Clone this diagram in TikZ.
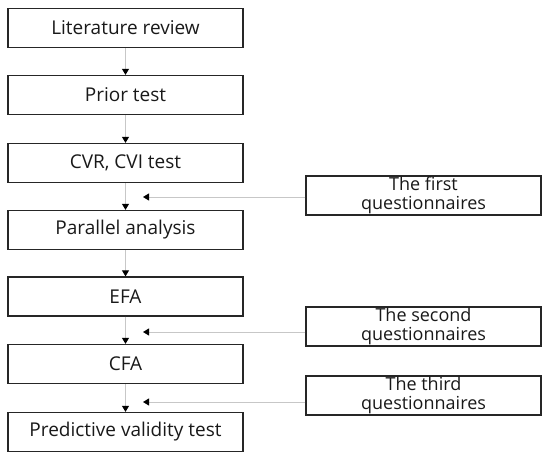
\documentclass[tikz,border=0pt]{standalone}
\usepackage{fontspec}
\setmainfont{Open Sans}
\usetikzlibrary{arrows.meta}
\tikzset{
	stepbox/.style={draw=black!85, line width=1.3pt, minimum width=235pt, minimum height=39pt, inner sep=0pt, font=\fontsize{19}{22}\selectfont, text=black!90},
	qbox/.style={stepbox, align=center, font=\fontsize{18}{19}\selectfont},
	flow/.style={draw=black!22, line width=1pt, -{Triangle[black, width=7pt, length=6pt]}}
}

\begin{document}
\begin{tikzpicture}[x=1pt, y=-1pt]
			%%%%% START %%%%%
			
			\useasboundingbox (0, 0) rectangle (549, 460);
			
			\node[stepbox] (lit) at (125.5, 28) {Literature review};
			\node[stepbox] (prior) at (125.5, 95) {Prior test};
			\node[stepbox] (cvr) at (125.5, 163) {CVR, CVI test};
			\node[stepbox] (par) at (125.5, 230) {Parallel analysis};
			\node[stepbox] (efa) at (125.5, 296.5) {EFA};
			\node[stepbox] (cfa) at (125.5, 364) {CFA};
			\node[stepbox] (pred) at (125.5, 432) {Predictive validity test};
			
			\node[qbox] (q1) at (423.5, 195.5) {The first\\questionnaires};
			\node[qbox] (q2) at (423.5, 326.5) {The second\\questionnaires};
			\node[qbox] (q3) at (423.5, 395.5) {The third\\questionnaires};
			
			\draw[flow] (lit) -- (prior);
			\draw[flow] (prior) -- (cvr);
			\draw[flow] (cvr) -- (par);
			\draw[flow] (par) -- (efa);
			\draw[flow] (efa) -- (cfa);
			\draw[flow] (cfa) -- (pred);
			
			\coordinate (in1) at (143, 197);
			\coordinate (in2) at (143, 332);
			\coordinate (in3) at (143, 402);
			\draw[flow] (q1.west |- in1) -- (in1);
			\draw[flow] (q2.west |- in2) -- (in2);
			\draw[flow] (q3.west |- in3) -- (in3);
			
			%%%%% END %%%%%
		\end{tikzpicture}
\end{document}
